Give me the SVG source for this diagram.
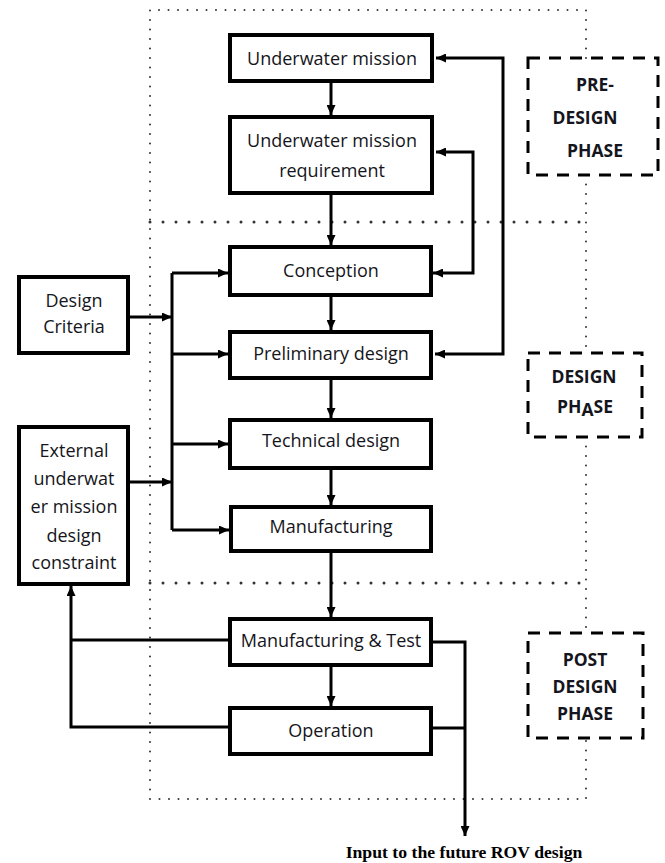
<svg xmlns="http://www.w3.org/2000/svg" width="665" height="863" viewBox="0 0 665 863">
<style>
.box{fill:#fff;stroke:#000;stroke-width:4}
.ph{fill:none;stroke:#000;stroke-width:3;stroke-dasharray:12 9}
.dot1{fill:none;stroke:#333;stroke-width:2;stroke-linecap:round;stroke-dasharray:0 9.5}
.dot2{fill:none;stroke:#333;stroke-width:3;stroke-linecap:round;stroke-dasharray:0 13}
.ln{fill:none;stroke:#000;stroke-width:3}
.t{font-family:"Open Sans","Noto Sans",sans-serif;font-size:18px;fill:#151520;text-anchor:middle}
.p{font-family:"Open Sans","Noto Sans",sans-serif;font-size:17.5px;font-weight:bold;fill:#151520;text-anchor:middle}
.b{font-family:"Liberation Serif",serif;font-size:17.7px;font-weight:bold;fill:#000;text-anchor:middle}
</style>
<defs>
<marker id="ah" markerUnits="userSpaceOnUse" markerWidth="10" markerHeight="9" refX="10" refY="4.5" orient="auto-start-reverse">
<path d="M0,0 L10,4.5 L0,9 z" fill="#000"/>
</marker>
</defs>
<g id="frame">
<path class="dot1" d="M586,58 V10 H150 V799 H586 V738"/>
<path class="dot1" d="M586,175 V353"/>
<path class="dot1" d="M586,437 V633"/>
<path class="dot2" d="M150,222 H586"/>
<path class="dot2" d="M150,583 H586"/>
</g>
<g id="connectors">
<path class="ln" marker-end="url(#ah)" d="M331,83 V115"/>
<path class="ln" marker-end="url(#ah)" d="M331,195 V245"/>
<path class="ln" marker-end="url(#ah)" d="M331,297 V330"/>
<path class="ln" marker-end="url(#ah)" d="M331,380 V418"/>
<path class="ln" marker-end="url(#ah)" d="M331,470 V505"/>
<path class="ln" marker-end="url(#ah)" d="M331,553 V617"/>
<path class="ln" marker-end="url(#ah)" d="M331,667 V706"/>
<path class="ln" marker-start="url(#ah)" marker-end="url(#ah)" d="M436,58 H503 V354 H435"/>
<path class="ln" marker-start="url(#ah)" marker-end="url(#ah)" d="M436,152 H473 V273 H433"/>
<path class="ln" d="M172,273 V530"/>
<path class="ln" marker-end="url(#ah)" d="M172,273 H228"/>
<path class="ln" marker-end="url(#ah)" d="M172,354 H228"/>
<path class="ln" marker-end="url(#ah)" d="M172,444 H228"/>
<path class="ln" marker-end="url(#ah)" d="M172,530 H229"/>
<path class="ln" marker-end="url(#ah)" d="M130,317 H172"/>
<path class="ln" marker-end="url(#ah)" d="M130,482 H172"/>
<path class="ln" d="M228,640 H71"/>
<path class="ln" marker-end="url(#ah)" d="M228,727 H71 V586"/>
<path class="ln" marker-end="url(#ah)" d="M433,642 H465 V836"/>
<path class="ln" d="M433,728 H465"/>
</g>
<g id="n-mission"><rect class="box" x="230" y="35" width="202" height="46"/><text class="t" x="332" y="65">Underwater mission</text></g>
<g id="n-requirement"><rect class="box" x="230" y="117" width="202" height="76"/><text class="t" x="332" y="147">Underwater mission</text><text class="t" x="332" y="177">requirement</text></g>
<g id="n-conception"><rect class="box" x="230" y="247" width="201" height="48"/><text class="t" x="331" y="277">Conception</text></g>
<g id="n-preliminary"><rect class="box" x="230" y="332" width="201" height="46"/><text class="t" x="331" y="360">Preliminary design</text></g>
<g id="n-technical"><rect class="box" x="230" y="420" width="201" height="48"/><text class="t" x="331" y="447">Technical design</text></g>
<g id="n-manufacturing"><rect class="box" x="231" y="507" width="200" height="44"/><text class="t" x="331" y="533">Manufacturing</text></g>
<g id="n-mtest"><rect class="box" x="230" y="619" width="201" height="46"/><text class="t" x="331" y="647">Manufacturing &amp; Test</text></g>
<g id="n-operation"><rect class="box" x="230" y="708" width="201" height="46"/><text class="t" x="331" y="737">Operation</text></g>
<g id="n-criteria"><rect class="box" x="19" y="277" width="109" height="76"/><text class="t" x="74" y="307">Design</text><text class="t" x="74" y="333">Criteria</text></g>
<g id="n-external"><rect class="box" x="19" y="427" width="109" height="157"/>
<text class="t" x="74" y="457">External</text><text class="t" x="74" y="485">underwat</text><text class="t" x="74" y="513">er mission</text><text class="t" x="74" y="542">design</text><text class="t" x="74" y="569">constraint</text></g>
<g id="phase-pre"><rect class="ph" x="528" y="58" width="130" height="117"/><text class="p" x="595" y="91">PRE-</text><text class="p" x="585" y="124">DESIGN</text><text class="p" x="595" y="157">PHASE</text></g>
<g id="phase-design"><rect class="ph" x="528" y="353" width="114" height="84"/><text class="p" x="584" y="383">DESIGN</text><text class="p" x="585" y="413">PH<tspan dy="3">A</tspan><tspan dy="-3">SE</tspan></text></g>
<g id="phase-post"><rect class="ph" x="528" y="633" width="115" height="105"/><text class="p" x="585" y="666">POST</text><text class="p" x="585" y="693">DESIGN</text><text class="p" x="585" y="720">PHASE</text></g>
<g id="output-label"><text class="b" x="464" y="858">Input to the future ROV design</text></g>
</svg>
